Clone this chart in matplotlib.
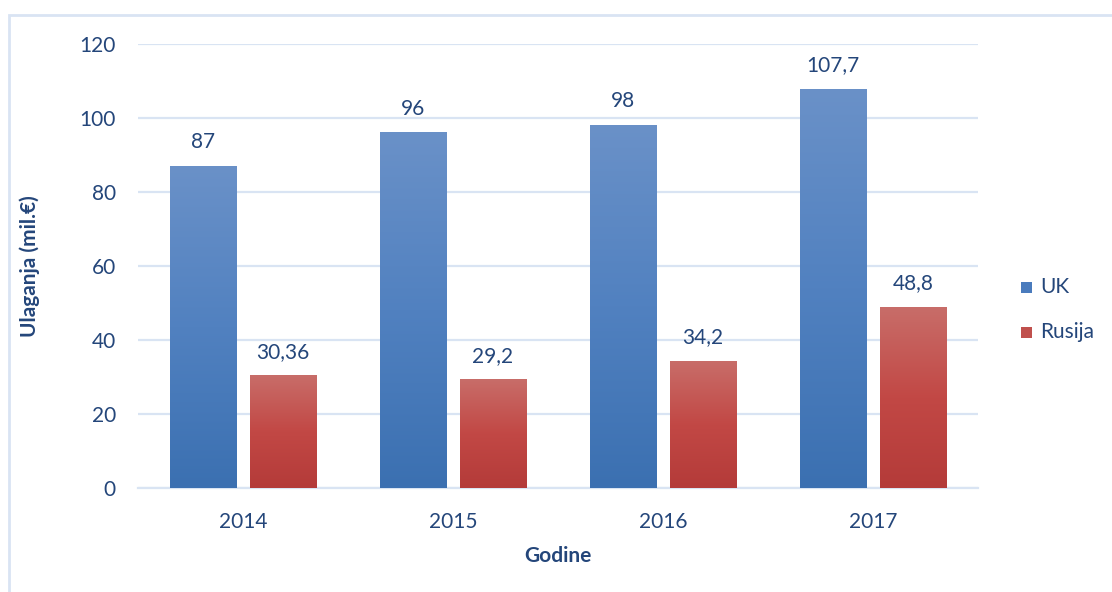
import numpy as np
import matplotlib
matplotlib.use("Agg")
import matplotlib.pyplot as plt
from matplotlib.colors import LinearSegmentedColormap
from matplotlib.patches import Rectangle

years = ["2014", "2015", "2016", "2017"]
uk = [87, 96, 98, 107.7]
rusija = [30.36, 29.2, 34.2, 48.8]
uk_labels = ["87", "96", "98", "107,7"]
rusija_labels = ["30,36", "29,2", "34,2", "48,8"]
y_ticks = [0, 20, 40, 60, 80, 100, 120]

plt.rcParams["font.family"] = ["Lato", "DejaVu Sans"]
text_color = "#24467a"
grid_color = "#d9e4f3"
fs = 15

fig = plt.figure(figsize=(11.12, 5.92), dpi=100)
ax = fig.add_axes([138 / 1112, 1 - 488 / 592, 840 / 1112, 444 / 592])

# outer chart frame
fig.add_artist(Rectangle((9 / 1112, -0.1), 1.2, 1 - 15 / 592 + 0.1,
                         transform=fig.transFigure, fill=False,
                         edgecolor=grid_color, lw=2))

x = np.arange(len(years))
width = 0.315
offset = 0.19

uk_cmap = LinearSegmentedColormap.from_list("uk", ["#3b70b1", "#5181c0", "#6a91c8"])
ru_cmap = LinearSegmentedColormap.from_list("ru", ["#b43b39", "#c24845", "#c86d69"])
grad = np.linspace(0, 1, 256).reshape(-1, 1)


def gradient_bars(xs, vals, cmap, labels):
    bars = ax.bar(xs, vals, width, color="none", zorder=3)
    for b, lab in zip(bars, labels):
        x0, y0 = b.get_x(), b.get_y()
        w, h = b.get_width(), b.get_height()
        ax.imshow(grad, extent=[x0, x0 + w, y0, y0 + h], origin="lower",
                  cmap=cmap, aspect="auto", zorder=3, interpolation="bicubic")
        ax.text(x0 + w / 2, y0 + h + 6.5, lab, ha="center", va="center",
                fontsize=fs, color=text_color, zorder=4)
    return bars


gradient_bars(x - offset, uk, uk_cmap, uk_labels)
gradient_bars(x + offset, rusija, ru_cmap, rusija_labels)

ax.set_xlim(-0.5, len(years) - 0.5)
ax.set_ylim(0, 120)
ax.set_yticks(y_ticks)
ax.set_yticklabels([str(t) for t in y_ticks])
ax.set_xticks(x)
ax.set_xticklabels(years)
ax.tick_params(axis="both", length=0, labelsize=fs, labelcolor=text_color)
ax.tick_params(axis="y", pad=16)
ax.tick_params(axis="x", pad=17)

ax.grid(axis="y", color=grid_color, lw=1.6, zorder=0)
ax.set_axisbelow(True)
for s in ["top", "right", "left"]:
    ax.spines[s].set_visible(False)
ax.spines["bottom"].set_color(grid_color)
ax.spines["bottom"].set_linewidth(1.6)

ax.set_ylabel("Ulaganja (mil.€)", fontsize=fs, fontweight="bold",
              color=text_color)
ax.yaxis.set_label_coords(-108 / 840, 0.5)
ax.set_xlabel("Godine", fontsize=fs, fontweight="bold", color=text_color)
ax.xaxis.set_label_coords(0.5, -(556 - 488) / 444)
ax.xaxis.label.set_va("center")
ax.yaxis.label.set_va("center")

# legend
legend_items = [("UK", "#4a7bbd"), ("Rusija", "#c0504d")]
for i, (name, col) in enumerate(legend_items):
    yc = 1 - (287 + 45 * i) / 592
    fig.add_artist(Rectangle((1021 / 1112, yc - 5.5 / 592), 11 / 1112, 11 / 592,
                             transform=fig.transFigure, facecolor=col,
                             edgecolor="none"))
    fig.text(1040 / 1112, yc, name, fontsize=fs, color=text_color,
             va="center", ha="left")

fig.savefig("out.png", dpi=100)
